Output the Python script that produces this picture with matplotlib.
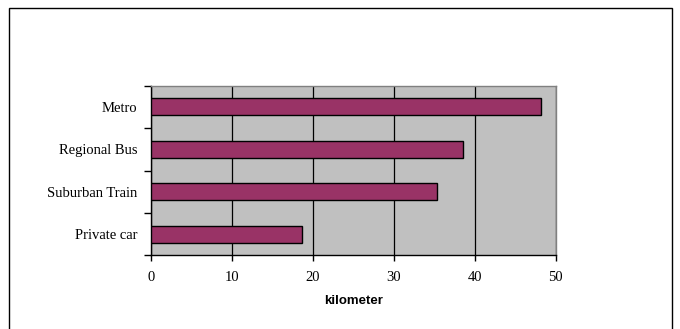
import matplotlib.pyplot as plt
from matplotlib.patches import Rectangle

# data
modes = ["Private car", "Suburban Train", "Regional Bus", "Metro"]
distance_km = [18.6, 35.3, 38.6, 48.2]
xticks = [0, 10, 20, 30, 40, 50]

fig = plt.figure(figsize=(6.8, 3.29), dpi=100)
fig.patch.set_facecolor("white")

# outer chart border
fig.patches.append(Rectangle((0.0132, -0.1), 0.9748, 1.0757, transform=fig.transFigure,
                             fill=False, edgecolor="black", linewidth=1.0, clip_on=False))

ax = fig.add_axes([0.2225, 0.224, 0.5947, 0.5155])
ax.set_facecolor("#C0C0C0")

ypos = list(range(len(modes)))
ax.barh(ypos, distance_km, height=0.4, color="#993366", edgecolor="black",
        linewidth=1.0, zorder=3)

ax.set_xlim(0, 50)
ax.set_ylim(-0.5, len(modes) - 0.5)
ax.set_xticks(xticks)
ax.set_xticklabels([str(t) for t in xticks], family="Liberation Serif", fontsize=10.5)

ax.set_yticks(ypos)
ax.set_yticklabels(modes, family="Liberation Serif", fontsize=10.5)
ax.tick_params(axis="y", length=0, pad=10)
# ticks between categories
ax.set_yticks([i + 0.5 for i in range(-1, len(modes))], minor=True)
ax.tick_params(axis="y", which="minor", length=5, width=1, direction="out")
ax.tick_params(axis="x", length=4, width=1, direction="out", pad=7)

ax.grid(axis="x", color="black", linewidth=0.9, zorder=1)
ax.set_axisbelow(True)

for side in ["top", "right"]:
    ax.spines[side].set_color("#808080")
    ax.spines[side].set_linewidth(1.0)
ax.spines["left"].set_linewidth(1.0)
ax.spines["bottom"].set_linewidth(1.0)

ax.set_xlabel("kilometer", family="Liberation Sans", fontweight="bold", fontsize=9.5, labelpad=8)

fig.savefig("out.png", dpi=100)
